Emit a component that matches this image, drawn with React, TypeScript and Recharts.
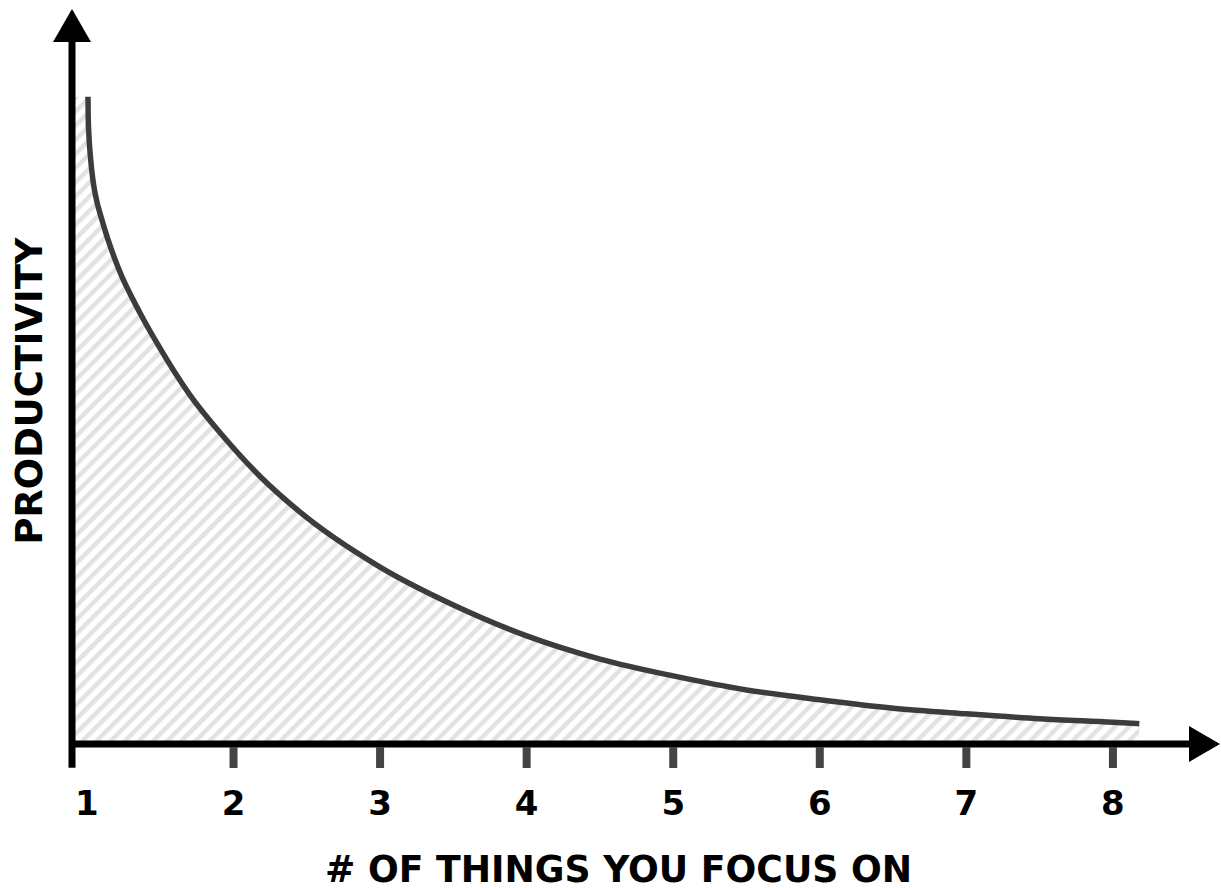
import React from 'react';
import {
  ComposedChart, Area, Line, XAxis, YAxis, ReferenceLine, ReferenceDot, Label
} from 'recharts';

// values
const focusCount = [
  1.007, 1.0085, 1.014, 1.024, 1.041, 1.058, 1.103, 1.212, 1.362, 1.478, 1.703,
  1.935, 2.187, 2.45, 3, 3.5, 4, 4.5, 5, 5.5, 6, 6.5, 7, 7.5, 8, 8.18,
];
const productivity = [
  92.2, 89.3, 86.5, 83.6, 80.3, 78.2, 74.6, 67.9, 61.4, 57.1, 49.7,
  43.7, 38.0, 33.1, 25.2, 19.8, 15.4, 12.1, 9.7, 7.7, 6.3, 5.1, 4.3, 3.6, 3.1, 2.9,
];
const tickLabels = [1, 2, 3, 4, 5, 6, 7, 8];

const xLabel = '# OF THINGS YOU FOCUS ON';
const yLabel = 'PRODUCTIVITY';

const X_MIN = 0.898;
const X_MAX = 8.519;
const Y_MAX = 100;
const Y_AXIS_LOW = -3.4;

const FONT = '"DejaVu Sans", sans-serif';

const lineData = focusCount.map((x, i) => ({ x, p: productivity[i] }));
// shading starts at the y axis
const areaData = [{ x: X_MIN, p: productivity[0] }, ...lineData];

const XTick = (props: any) => {
  const { x, y, payload } = props;
  const v = payload.value;
  return (
    <g>
      {v > 1 && <line x1={x} x2={x} y1={y + 3} y2={y + 24} stroke="#444" strokeWidth={8} />}
      <text x={x} y={y + 71} textAnchor="middle" fontSize={34} fontWeight={700} fontFamily={FONT} fill="#000">
        {v}
      </text>
    </g>
  );
};

const XTitle = (props: any) => {
  const { viewBox } = props;
  return (
    <text
      x={viewBox.x + viewBox.width / 2 - 12}
      y={viewBox.y + 138}
      textAnchor="middle"
      fontSize={37}
      fontWeight={700}
      fontFamily={FONT}
      fill="#000"
      textLength={587}
      lengthAdjust="spacingAndGlyphs"
    >
      {xLabel}
    </text>
  );
};

const YTitle = (props: any) => {
  const { viewBox } = props;
  const tx = viewBox.x + 42;
  const ty = viewBox.y + viewBox.height / 2 - 2;
  return (
    <text
      x={tx}
      y={ty}
      transform={`rotate(-90, ${tx}, ${ty})`}
      textAnchor="middle"
      fontSize={37}
      fontWeight={700}
      fontFamily={FONT}
      fill="#000"
      textLength={307}
      lengthAdjust="spacingAndGlyphs"
    >
      {yLabel}
    </text>
  );
};

const UpArrow = (props: any) => {
  const { cx, cy } = props;
  return <polygon points={`${cx - 19},${cy} ${cx + 19},${cy} ${cx},${cy - 33}`} fill="#000" />;
};

const RightArrow = (props: any) => {
  const { cx, cy } = props;
  return <polygon points={`${cx},${cy - 18} ${cx},${cy + 18} ${cx + 31},${cy}`} fill="#000" />;
};

export default function App() {
  return (
    <div style={{ position: 'absolute', left: 0, top: 0, background: '#fff' }}>
      <ComposedChart
        width={1221}
        height={888}
        margin={{ top: 42, right: 32, left: 0, bottom: 0 }}
      >
        <defs>
          <pattern id="hatch" width="10" height="10" patternUnits="userSpaceOnUse" patternTransform="rotate(45)">
            <rect width="10" height="10" fill="#fff" />
            <rect x="0" y="0" width="4.5" height="10" fill="#e2e2e2" />
          </pattern>
        </defs>

        <XAxis
          dataKey="x"
          type="number"
          domain={[X_MIN, X_MAX]}
          allowDataOverflow
          ticks={tickLabels}
          interval={0}
          height={144}
          tickSize={0}
          tickMargin={0}
          tickLine={false}
          axisLine={{ stroke: '#000', strokeWidth: 7 }}
          tick={<XTick />}
        >
          <Label content={<XTitle />} />
        </XAxis>
        <YAxis
          type="number"
          domain={[0, Y_MAX]}
          allowDataOverflow
          width={72}
          tick={false}
          tickLine={false}
          axisLine={false}
        >
          <Label content={<YTitle />} />
        </YAxis>

        <Area
          data={areaData}
          dataKey="p"
          type="monotone"
          stroke="none"
          fill="url(#hatch)"
          fillOpacity={1}
          baseValue={0}
          isAnimationActive={false}
        />
        <Line
          data={lineData}
          dataKey="p"
          type="monotone"
          stroke="#3c3c3c"
          strokeWidth={5.5}
          dot={false}
          activeDot={false}
          isAnimationActive={false}
        />

        <ReferenceLine
          segment={[{ x: X_MIN, y: Y_AXIS_LOW }, { x: X_MIN, y: Y_MAX }]}
          stroke="#000"
          strokeWidth={7}
          ifOverflow="visible"
        />
        <ReferenceDot x={X_MIN} y={Y_MAX} ifOverflow="visible" shape={<UpArrow />} />
        <ReferenceDot x={X_MAX} y={0} ifOverflow="visible" shape={<RightArrow />} />
      </ComposedChart>
    </div>
  );
}
